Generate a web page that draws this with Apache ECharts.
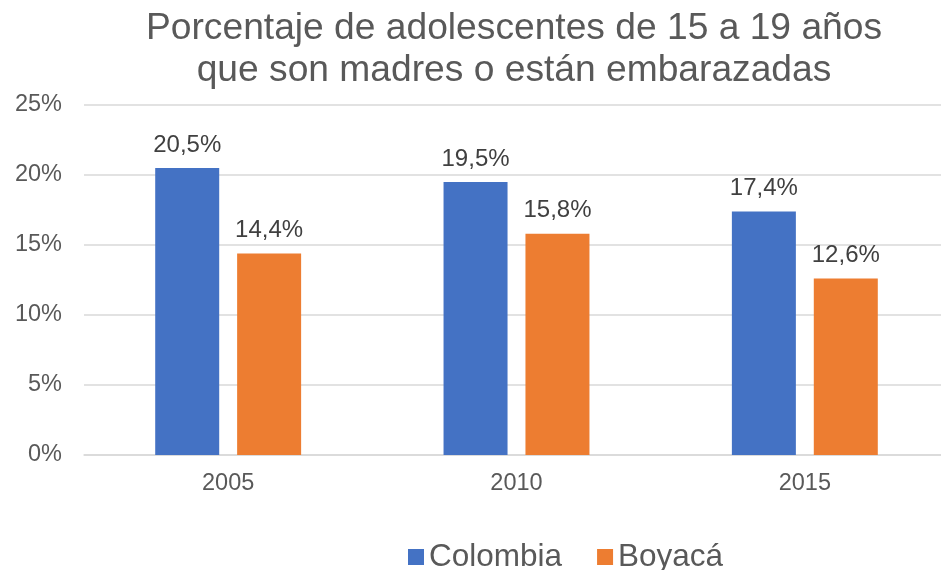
<!DOCTYPE html>
<html>
<head>
<meta charset="utf-8">
<script src="https://cdn.jsdelivr.net/npm/echarts@6/dist/echarts.min.js"></script>
<style>
html,body{margin:0;padding:0;background:#fff;}
#c{width:941px;height:570px;}
</style>
</head>
<body>
<div id="c"></div>
<script>
const titleText = 'Porcentaje de adolescentes de 15 a 19 años\nque son madres o están embarazadas';
const categories = ['2005', '2010', '2015'];
const seriesNames = ['Colombia', 'Boyacá'];
const colombia = [20.5, 19.5, 17.4];
const boyaca = [14.4, 15.8, 12.6];
const colors = ['#4472C4', '#ED7D31'];

const font = '"Liberation Sans", Arial, sans-serif';
const chart = echarts.init(document.getElementById('c'), null, {renderer: 'canvas'});
const fmt = v => v.toFixed(1).replace('.', ',') + '%';

chart.setOption({
  animation: false,
  textStyle: {fontFamily: font},
  title: {
    text: titleText,
    left: 509,
    textAlign: 'center',
    top: 3,
    textStyle: {fontFamily: font, fontSize: 37.2, fontWeight: 'normal', color: '#595959', lineHeight: 42}
  },
  legend: {
    data: seriesNames,
    left: 403,
    top: 536,
    icon: 'rect',
    itemWidth: 16,
    itemHeight: 16,
    itemGap: 35,
    textStyle: {fontFamily: font, fontSize: 31.5, color: '#595959'}
  },
  grid: {left: 84, top: 105, width: 865, height: 350, containLabel: false, outerBoundsMode: 'none'},
  xAxis: {
    type: 'category',
    data: categories,
    axisLine: {lineStyle: {color: '#D9D9D9', width: 1.5}},
    axisTick: {show: false},
    axisLabel: {fontFamily: font, fontSize: 23.5, color: '#595959', margin: 17}
  },
  yAxis: {
    type: 'value',
    min: 0,
    max: 25,
    interval: 5,
    axisLine: {show: false},
    axisTick: {show: false},
    splitLine: {lineStyle: {color: '#D9D9D9', width: 1.5}},
    axisLabel: {fontFamily: font, fontSize: 23.5, color: '#595959', margin: 22, formatter: v => v + '%'}
  },
  series: [
    {
      name: seriesNames[0], type: 'bar', data: colombia, barWidth: 64, barGap: '28%',
      itemStyle: {color: colors[0]},
      label: {show: true, position: 'top', distance: 11, fontFamily: font, fontSize: 24, color: '#404040', formatter: p => fmt(p.value)}
    },
    {
      name: seriesNames[1], type: 'bar', data: boyaca, barWidth: 64, barGap: '28%',
      itemStyle: {color: colors[1]},
      label: {show: true, position: 'top', distance: 11, fontFamily: font, fontSize: 24, color: '#404040', formatter: p => fmt(p.value)}
    }
  ]
});
</script>
</body>
</html>
